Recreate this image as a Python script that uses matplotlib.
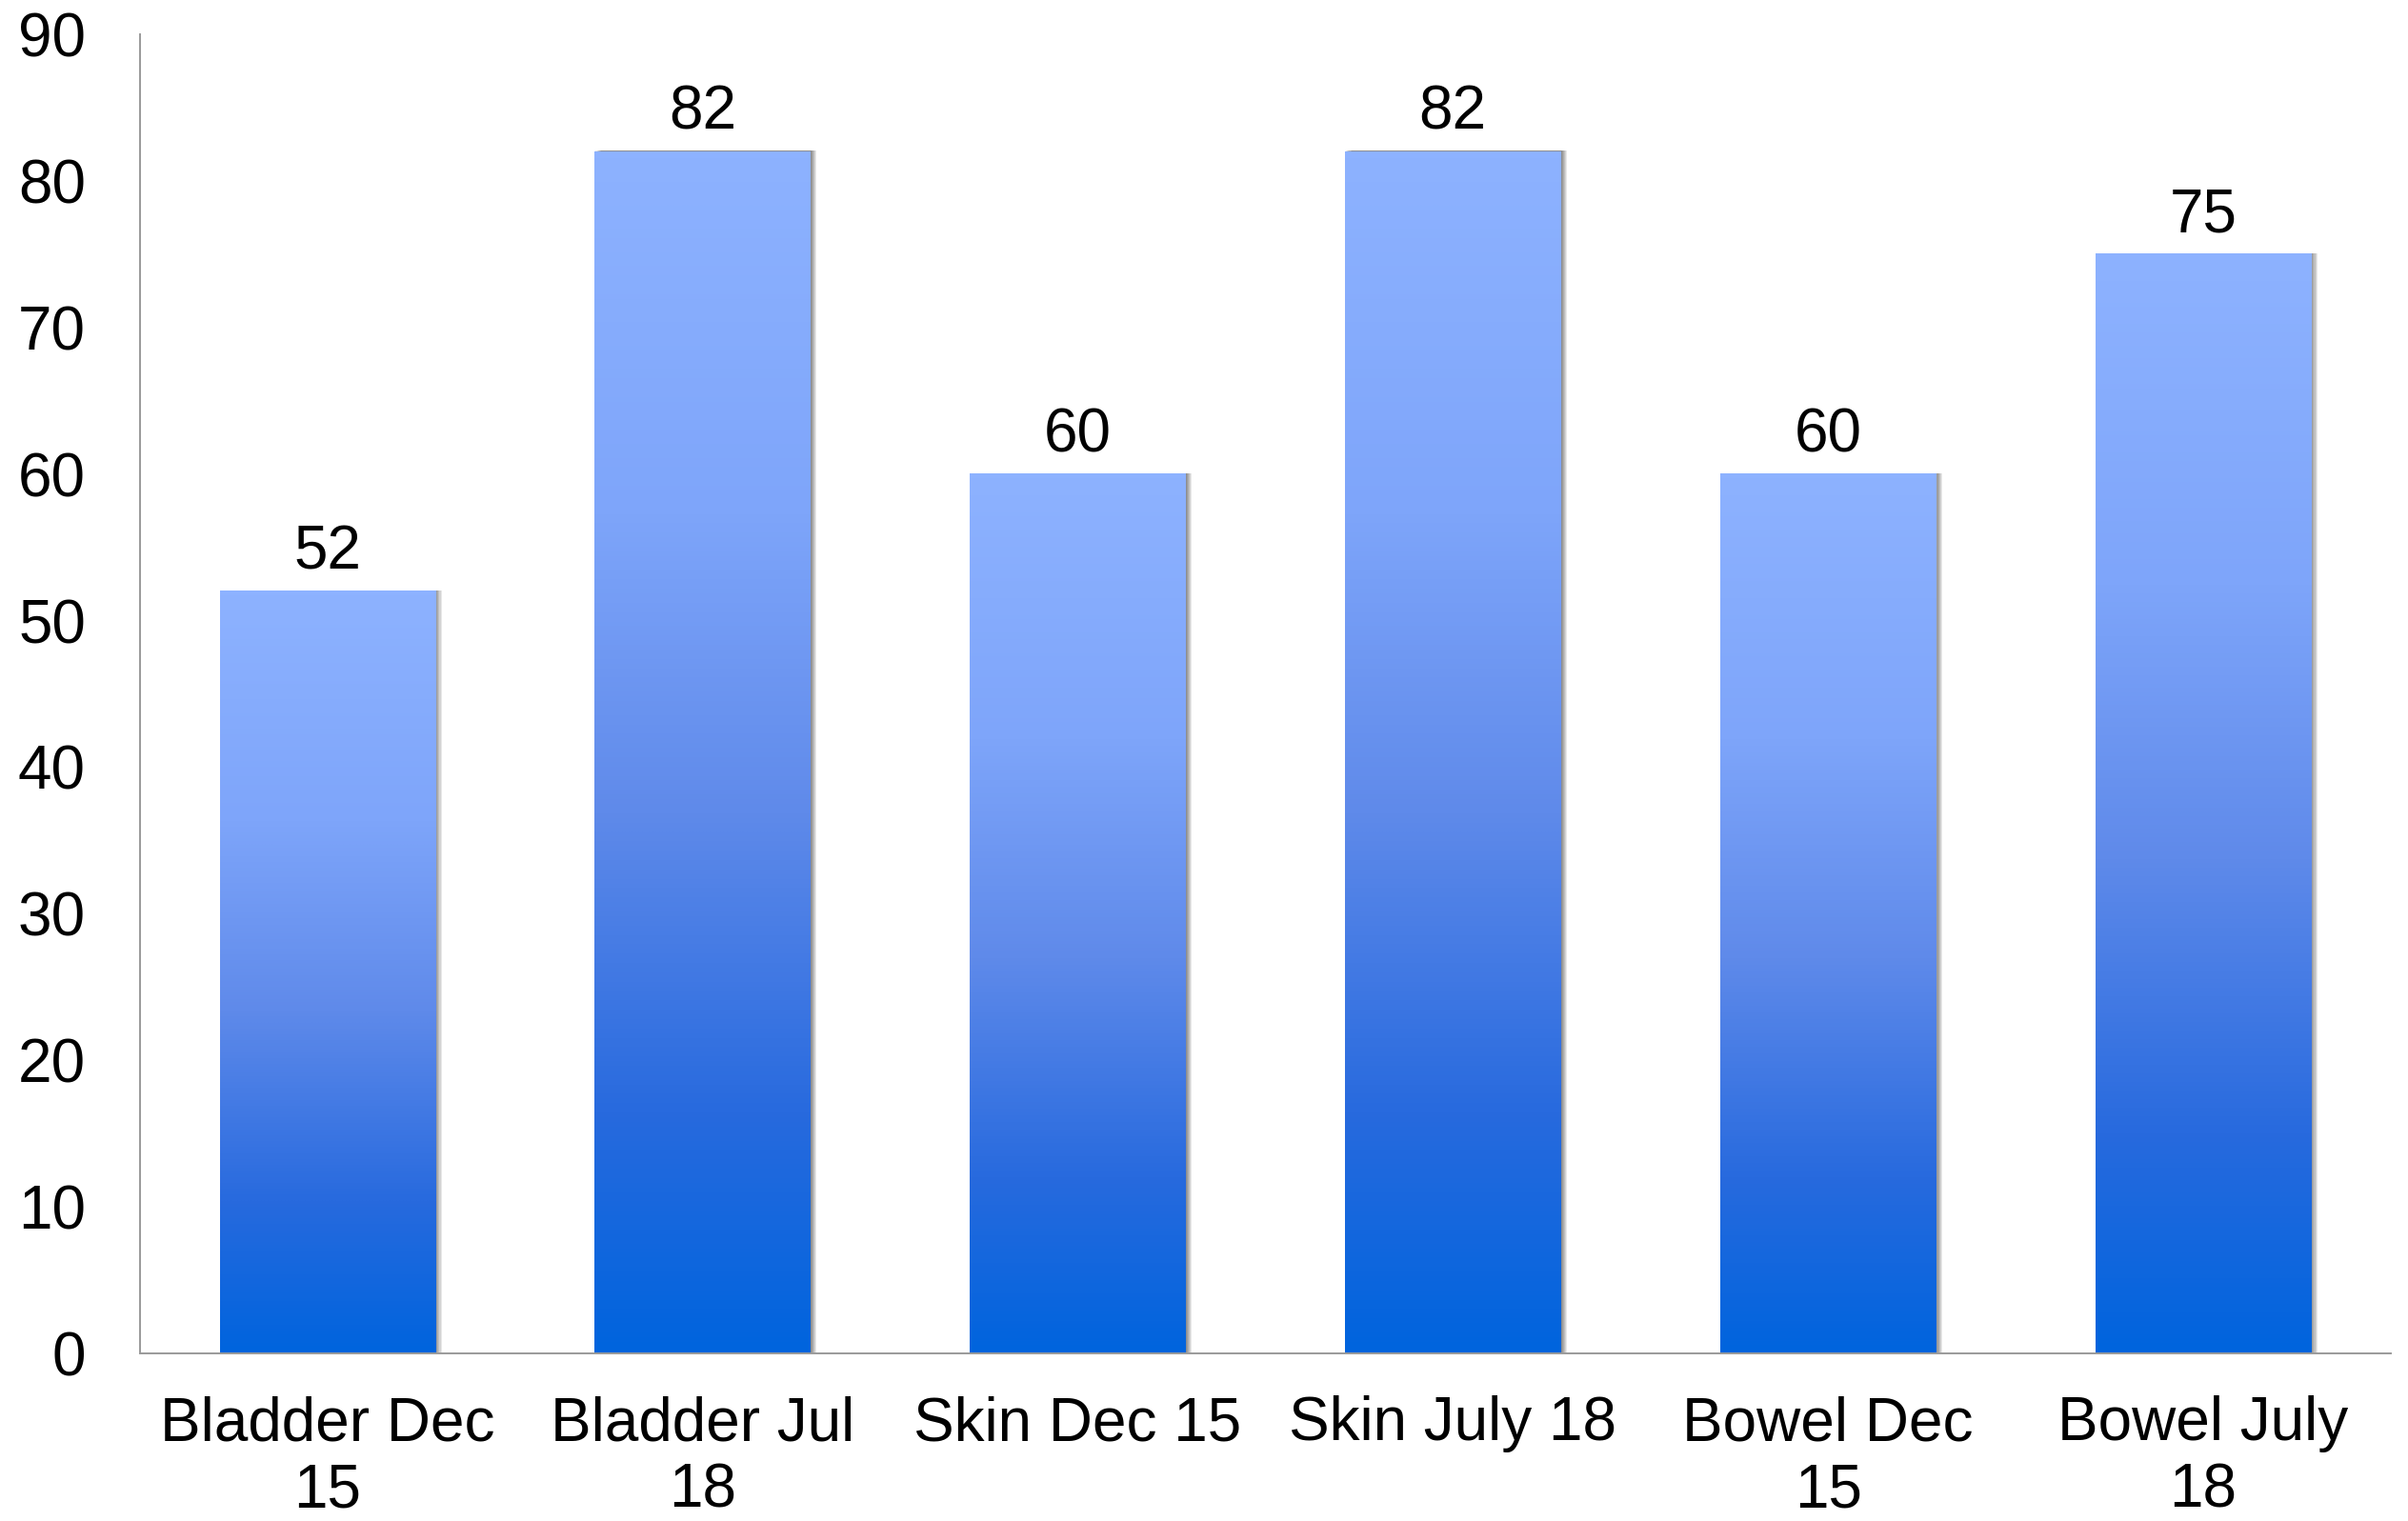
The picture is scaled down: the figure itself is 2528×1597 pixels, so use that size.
import numpy as np
import matplotlib
matplotlib.use("Agg")
import matplotlib.pyplot as plt
import matplotlib.patheffects as pe
from matplotlib.colors import LinearSegmentedColormap

categories = ["Bladder Dec\n15", "Bladder Jul\n18", "Skin Dec 15",
              "Skin July 18", "Bowel Dec\n15", "Bowel July\n18"]
values = [52, 82, 60, 82, 60, 75]
yticks = [0, 10, 20, 30, 40, 50, 60, 70, 80, 90]

plt.rcParams['font.family'] = ['Liberation Sans', 'DejaVu Sans']

fig = plt.figure(figsize=(25.28, 15.97), dpi=100)
ax = fig.add_axes([0.0581, 0.1102, 0.9347, 0.8672])

x = np.arange(len(categories))
shadow = [pe.SimplePatchShadow(offset=(d, 0.6), shadow_rgbFace='black', alpha=0.09)
          for d in (0.8, 1.6, 2.4, 3.2, 4.0, 4.8)]
bars = ax.bar(x, values, width=0.575, color='white', zorder=2,
              path_effects=shadow + [pe.Normal()])

cmap = LinearSegmentedColormap.from_list("g", [
    (0.0, (0/255, 100/255, 221/255)),
    (0.2, (40/255, 106/255, 222/255)),
    (0.45, (95/255, 138/255, 234/255)),
    (0.7, (126/255, 165/255, 250/255)),
    (1.0, (141/255, 178/255, 255/255)),
])
grad = np.linspace(0, 1, 256).reshape(-1, 1)
for b in bars:
    x0, w, h = b.get_x(), b.get_width(), b.get_height()
    ax.imshow(grad, cmap=cmap, origin='lower', aspect='auto',
              extent=[x0, x0 + w, 0, h], zorder=3, interpolation='bilinear')

for b, v in zip(bars, values):
    ax.annotate(str(v), (b.get_x() + b.get_width() / 2, v),
                xytext=(0, 17), textcoords='offset points',
                ha='center', va='baseline', fontsize=46, color='black')

ax.set_xlim(-0.5, len(categories) - 0.5)
ax.set_ylim(0, 90)
ax.set_yticks(yticks)
ax.set_xticks(x)
ax.set_xticklabels(categories, linespacing=1.22)
ax.tick_params(axis='both', length=0, labelsize=46, colors='black')
ax.tick_params(axis='y', pad=41)
ax.tick_params(axis='x', pad=32)

for s in ('top', 'right'):
    ax.spines[s].set_visible(False)
for s in ('left', 'bottom'):
    ax.spines[s].set_color('#9a9a9a')
    ax.spines[s].set_linewidth(1.4)
    ax.spines[s].set_zorder(4)

fig.savefig("out.png", dpi=100, facecolor='white')
